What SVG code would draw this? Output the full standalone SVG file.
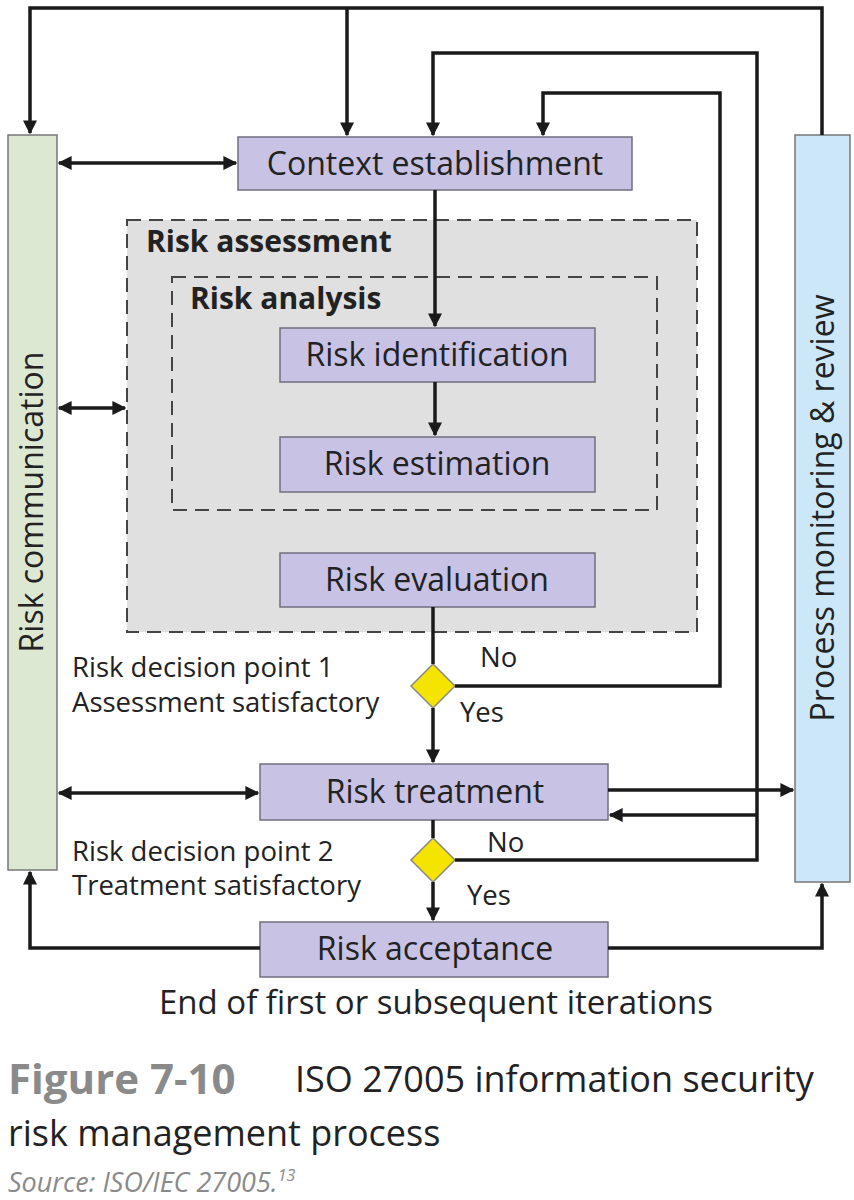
<svg xmlns="http://www.w3.org/2000/svg" width="854" height="1200" viewBox="0 0 854 1200">
<style>
.box{fill:#c8c2e4;stroke:#6f6f7f;stroke-width:1.5}
.bt{font-family:"Open Sans","Liberation Sans",sans-serif;font-size:32px;fill:#222;text-anchor:middle}
.lbl{font-family:"Open Sans","Liberation Sans",sans-serif;font-size:27.5px;fill:#222}
.hd{font-family:"Open Sans","Liberation Sans",sans-serif;font-size:30px;font-weight:bold;fill:#222}
.ln{fill:none;stroke:#1a1a1a;stroke-width:3.5}
.dash{fill:none;stroke:#444;stroke-width:2;stroke-dasharray:14 8}
</style>
<defs>
<marker id="a" viewBox="0 0 10 10" refX="9" refY="5" markerWidth="4" markerHeight="4" orient="auto-start-reverse"><path d="M0,0L10,5L0,10z" fill="#1a1a1a"/></marker>
</defs>
<rect width="854" height="1200" fill="#fff"/>
<g id="risk-assessment"><rect x="127" y="220" width="570" height="412" fill="#e0e0e0"/><rect x="127" y="220" width="570" height="412" class="dash"/><text class="hd" x="146" y="252">Risk assessment</text></g>
<g id="risk-analysis"><rect x="172" y="277" width="485" height="233" class="dash"/><text class="hd" x="190" y="309">Risk analysis</text></g>
<g id="risk-communication"><rect x="8" y="135" width="49" height="735" fill="#dde8d2" stroke="#777" stroke-width="1.5"/><text class="bt" transform="translate(43,502) rotate(-90)">Risk communication</text></g>
<g id="process-monitoring"><rect x="795" y="135" width="55" height="747" fill="#cce8f8" stroke="#777" stroke-width="1.5"/><text class="bt" transform="translate(834,508) rotate(-90)">Process monitoring &amp; review</text></g>
<g id="context"><rect class="box" x="238" y="137" width="394" height="53"/><text class="bt" x="435" y="175">Context establishment</text></g>
<g id="identification"><rect class="box" x="280" y="328" width="315" height="54"/><text class="bt" x="437" y="366">Risk identification</text></g>
<g id="estimation"><rect class="box" x="280" y="437" width="315" height="55"/><text class="bt" x="437" y="475">Risk estimation</text></g>
<g id="evaluation"><rect class="box" x="280" y="553" width="315" height="54"/><text class="bt" x="437" y="591">Risk evaluation</text></g>
<g id="treatment"><rect class="box" x="260" y="764" width="348" height="56"/><text class="bt" x="435" y="803">Risk treatment</text></g>
<g id="acceptance"><rect class="box" x="260" y="922" width="348" height="55"/><text class="bt" x="435" y="960">Risk acceptance</text></g>
<g id="decision1"><path d="M433,664L455,686L433,708L411,686z" fill="#f5e400" stroke="#888" stroke-width="1.5"/></g>
<g id="decision2"><path d="M433,838L455,860L433,882L411,860z" fill="#f5e400" stroke="#888" stroke-width="1.5"/></g>
<g id="connectors">
<path class="ln" d="M822,135V8H30V133" marker-end="url(#a)"/>
<path class="ln" d="M347,8V135" marker-end="url(#a)"/>
<path class="ln" d="M455,860H757V53H433V135" marker-end="url(#a)"/>
<path class="ln" d="M455,686H720V93H543V135" marker-end="url(#a)"/>
<path class="ln" d="M435,190V326" marker-end="url(#a)"/>
<path class="ln" d="M435,382V435" marker-end="url(#a)"/>
<path class="ln" d="M433,607V664"/>
<path class="ln" d="M433,708V762" marker-end="url(#a)"/>
<path class="ln" d="M433,820V838"/>
<path class="ln" d="M433,882V920" marker-end="url(#a)"/>
<path class="ln" d="M59,163H236" marker-start="url(#a)" marker-end="url(#a)"/>
<path class="ln" d="M59,408H125" marker-start="url(#a)" marker-end="url(#a)"/>
<path class="ln" d="M59,793H258" marker-start="url(#a)" marker-end="url(#a)"/>
<path class="ln" d="M608,790H793" marker-end="url(#a)"/>
<path class="ln" d="M757,815H610" marker-end="url(#a)"/>
<path class="ln" d="M260,948H30V872" marker-end="url(#a)"/>
<path class="ln" d="M608,948H822V884" marker-end="url(#a)"/>
</g>
<text class="lbl" x="480" y="667">No</text>
<text class="lbl" x="460" y="722">Yes</text>
<text class="lbl" x="487" y="852">No</text>
<text class="lbl" x="467" y="905">Yes</text>
<text class="lbl" x="72" y="677">Risk decision point 1</text>
<text class="lbl" x="72" y="712">Assessment satisfactory</text>
<text class="lbl" x="72" y="861">Risk decision point 2</text>
<text class="lbl" x="72" y="895">Treatment satisfactory</text>
<text class="lbl" x="436" y="1014" text-anchor="middle" style="font-size:33px">End of first or subsequent iterations</text>
<text x="8" y="1094" style="font-family:'Open Sans','Liberation Sans',sans-serif;font-size:42px;font-weight:bold;fill:#8a8a8a">Figure 7-10</text>
<text x="295" y="1092" style="font-family:'Open Sans','Liberation Sans',sans-serif;font-size:36px;fill:#222">ISO 27005 information security</text>
<text x="8" y="1146" style="font-family:'Open Sans','Liberation Sans',sans-serif;font-size:36px;fill:#222">risk management process</text>
<text x="8" y="1192" style="font-family:'Open Sans','Liberation Sans',sans-serif;font-size:27px;font-style:italic;fill:#8a8a8a">Source: ISO/IEC 27005.<tspan dy="-11" style="font-size:16px">13</tspan></text>
</svg>
